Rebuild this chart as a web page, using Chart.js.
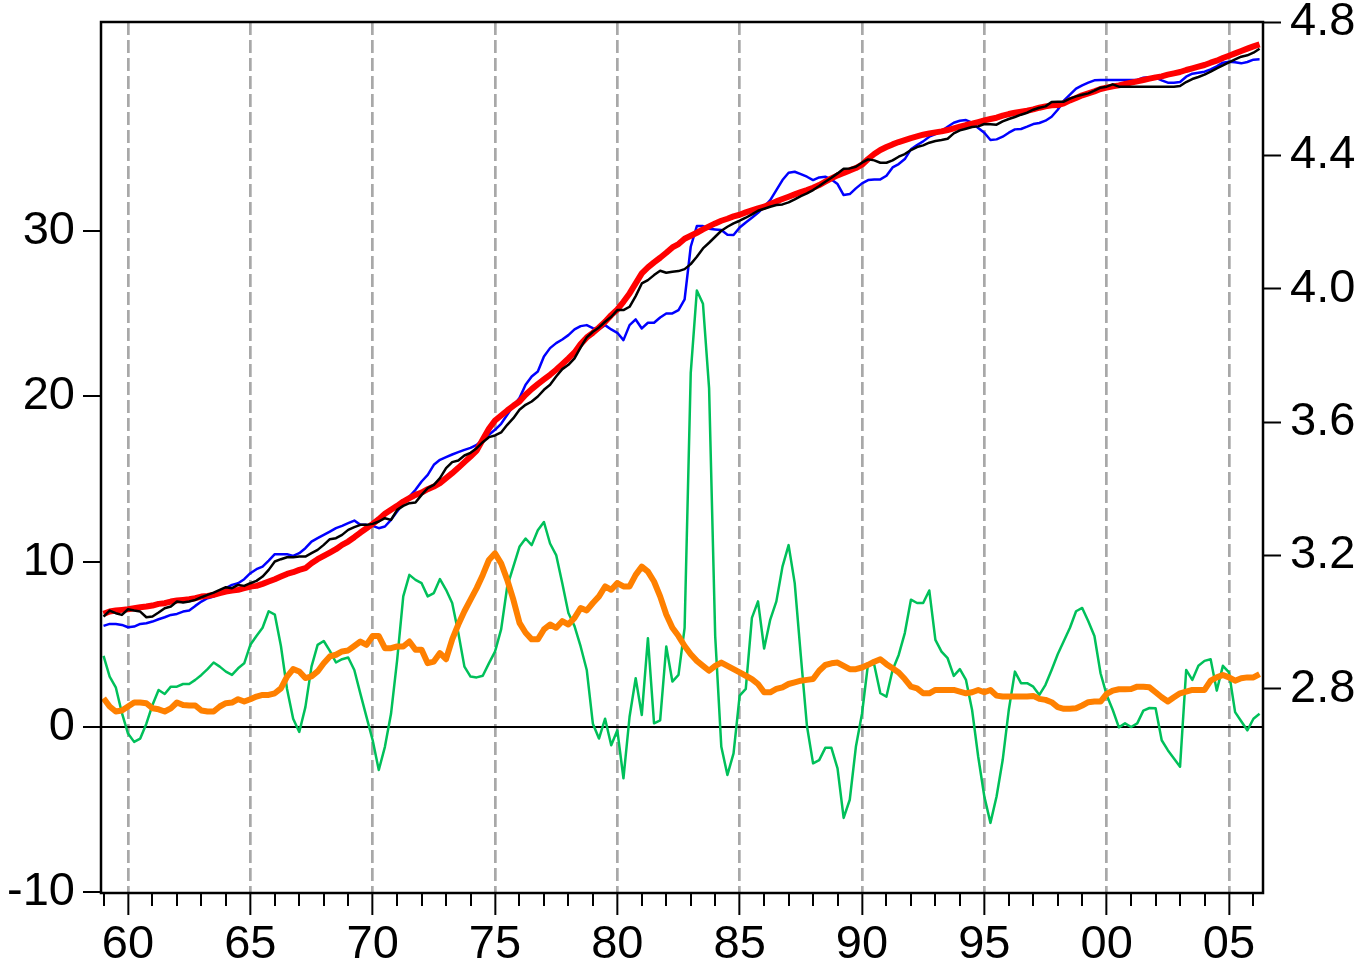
<!DOCTYPE html>
<html>
<head>
<meta charset="utf-8">
<title>Price level, trend and inflation</title>
<script src="https://cdn.jsdelivr.net/npm/chart.js@4.4.0/dist/chart.umd.min.js"></script>
<style>
  html, body { margin: 0; padding: 0; background: #fff; }
  #wrap { width: 1359px; height: 969px; }
</style>
</head>
<body>
<div id="wrap"><canvas id="chart" width="1359" height="969"></canvas></div>
<script>
// quarterly data, 1959Q1 - 2006Q2
const startYear = 1959;

// log price level (right axis), blue
const priceLevel = [
  2.989, 2.995, 2.995, 2.992,  2.985, 2.987, 2.995, 2.997,  3.002, 3.009, 3.015, 3.022,
  3.025, 3.032, 3.035, 3.049,  3.062, 3.072, 3.077, 3.092,  3.102, 3.112, 3.117, 3.129,
  3.147, 3.159, 3.167, 3.185,  3.204, 3.204, 3.204, 3.199,  3.207, 3.222, 3.242, 3.252,
  3.262, 3.272, 3.282, 3.289,  3.297, 3.305, 3.292, 3.292,  3.289, 3.282, 3.287, 3.307,
  3.332, 3.357, 3.377, 3.397,  3.422, 3.442, 3.472, 3.487,  3.495, 3.503, 3.510, 3.517,
  3.523, 3.532, 3.548, 3.562,  3.577, 3.595, 3.622, 3.649,  3.672, 3.712, 3.737, 3.752,
  3.797, 3.822, 3.837, 3.848,  3.861, 3.878, 3.888, 3.891,  3.882, 3.879, 3.891, 3.878,
  3.868, 3.846, 3.891, 3.908,  3.881, 3.898, 3.898, 3.914,  3.926, 3.926, 3.936, 3.968,
  4.126, 4.188, 4.188, 4.180,  4.178, 4.176, 4.162, 4.161,  4.184, 4.199, 4.213, 4.228,
  4.246, 4.266, 4.296, 4.326,  4.348, 4.351, 4.344, 4.336,  4.326, 4.334, 4.336, 4.328,
  4.314, 4.281, 4.284, 4.301,  4.316, 4.326, 4.328, 4.328,  4.339, 4.364, 4.374, 4.389,
  4.418, 4.431, 4.442, 4.456,  4.464, 4.473, 4.486, 4.498,  4.504, 4.506, 4.498, 4.482,
  4.468, 4.446, 4.448, 4.456,  4.468, 4.478, 4.479, 4.486,  4.494, 4.497, 4.504, 4.516,
  4.537, 4.564, 4.582, 4.600,  4.610, 4.618, 4.625, 4.626,  4.626, 4.626, 4.626, 4.626,
  4.626, 4.626, 4.633, 4.634,  4.633, 4.625, 4.618, 4.618,  4.620, 4.636, 4.645, 4.648,
  4.651, 4.658, 4.667, 4.678,  4.681, 4.679, 4.676, 4.680,  4.687, 4.688
];

// smoothed price level (right axis), black
const priceSmooth = [
  3.017, 3.035, 3.027, 3.022,  3.039, 3.035, 3.032, 3.015,  3.017, 3.029, 3.042, 3.047,
  3.062, 3.059, 3.062, 3.067,  3.075, 3.082, 3.089, 3.097,  3.105, 3.102, 3.112, 3.109,
  3.117, 3.124, 3.137, 3.157,  3.182, 3.189, 3.195, 3.195,  3.197, 3.197, 3.207, 3.217,
  3.232, 3.249, 3.252, 3.262,  3.277, 3.285, 3.292, 3.292,  3.295, 3.302, 3.312, 3.307,
  3.337, 3.349, 3.357, 3.359,  3.382, 3.402, 3.412, 3.432,  3.462, 3.480, 3.485, 3.500,
  3.508, 3.522, 3.540, 3.555,  3.560, 3.569, 3.592, 3.612,  3.637, 3.652, 3.662, 3.677,
  3.697, 3.712, 3.737, 3.759,  3.772, 3.791, 3.824, 3.854,  3.871, 3.884, 3.901, 3.916,
  3.936, 3.936, 3.946, 3.978,  4.016, 4.026, 4.041, 4.054,  4.048, 4.051, 4.053, 4.059,
  4.074, 4.096, 4.121, 4.138,  4.156, 4.174, 4.186, 4.196,  4.204, 4.213, 4.223, 4.234,
  4.240, 4.246, 4.251, 4.253,  4.259, 4.268, 4.278, 4.286,  4.296, 4.308, 4.321, 4.333,
  4.346, 4.360, 4.361, 4.366,  4.378, 4.388, 4.385, 4.378,  4.378, 4.385, 4.396, 4.404,
  4.416, 4.425, 4.430, 4.438,  4.443, 4.446, 4.450, 4.466,  4.475, 4.480, 4.485, 4.487,
  4.494, 4.493, 4.492, 4.502,  4.509, 4.515, 4.522, 4.528,  4.537, 4.543, 4.547, 4.560,
  4.561, 4.561, 4.570, 4.577,  4.582, 4.586, 4.594, 4.603,  4.606, 4.613, 4.606, 4.606,
  4.606, 4.606, 4.606, 4.606,  4.606, 4.606, 4.606, 4.606,  4.608, 4.620, 4.629, 4.635,
  4.642, 4.651, 4.661, 4.670,  4.679, 4.688, 4.696, 4.700,  4.708, 4.720
];

// trend price level (right axis), red
const priceTrend = [
  3.025, 3.032, 3.035, 3.037,  3.039, 3.042, 3.045, 3.047,  3.050, 3.055, 3.057, 3.062,
  3.065, 3.067, 3.069, 3.072,  3.077, 3.079, 3.082, 3.087,  3.092, 3.095, 3.097, 3.102,
  3.107, 3.109, 3.115, 3.122,  3.129, 3.137, 3.145, 3.150,  3.157, 3.162, 3.177, 3.189,
  3.199, 3.209, 3.219, 3.232,  3.242, 3.255, 3.269, 3.282,  3.295, 3.309, 3.325, 3.337,
  3.349, 3.362, 3.372, 3.382,  3.389, 3.399, 3.407, 3.417,  3.432, 3.447, 3.463, 3.480,
  3.497, 3.515, 3.548, 3.580,  3.605, 3.620, 3.635, 3.649,  3.662, 3.682, 3.699, 3.714,
  3.728, 3.742, 3.757, 3.774,  3.791, 3.809, 3.834, 3.854,  3.868, 3.884, 3.901, 3.921,
  3.938, 3.961, 3.986, 4.016,  4.046, 4.064, 4.079, 4.093,  4.108, 4.124, 4.134, 4.150,
  4.159, 4.168, 4.178, 4.187,  4.196, 4.204, 4.210, 4.217,  4.222, 4.229, 4.235, 4.241,
  4.246, 4.254, 4.262, 4.269,  4.276, 4.283, 4.290, 4.296,  4.303, 4.311, 4.321, 4.331,
  4.340, 4.347, 4.355, 4.362,  4.372, 4.389, 4.404, 4.416,  4.425, 4.433, 4.440, 4.446,
  4.452, 4.457, 4.462, 4.466,  4.469, 4.472, 4.476, 4.481,  4.486, 4.491, 4.495, 4.500,
  4.505, 4.509, 4.513, 4.519,  4.524, 4.528, 4.531, 4.534,  4.538, 4.543, 4.547, 4.550,
  4.551, 4.556, 4.565, 4.572,  4.580, 4.586, 4.592, 4.599,  4.603, 4.607, 4.610, 4.614,
  4.618, 4.622, 4.626, 4.630,  4.634, 4.637, 4.642, 4.646,  4.650, 4.656, 4.661, 4.666,
  4.671, 4.678, 4.684, 4.692,  4.699, 4.706, 4.713, 4.720,  4.727, 4.733
];

// inflation, % (left axis), green
const inflation = [
  4.3, 3.05, 2.4, 0.85,  -0.4, -0.9, -0.7, 0.2,  1.33, 2.24, 2.0, 2.44,
  2.44, 2.6, 2.6, 2.85,  3.15, 3.5, 3.9, 3.65,  3.35, 3.15, 3.55, 3.85,
  4.97, 5.5, 6.0, 7.0,  6.8, 4.9, 2.3, 0.5,  -0.3, 1.2, 3.65, 4.97,
  5.2, 4.6, 3.9, 4.1,  4.2, 3.45, 2.0, 0.6,  -0.8, -2.6, -1.2, 0.8,
  4.05, 7.9, 9.2, 8.9,  8.7, 7.9, 8.1, 8.95,  8.3, 7.5, 5.7, 3.65,
  3.05, 3.0, 3.1, 3.85,  4.56, 5.9, 8.5, 9.7,  10.9, 11.4, 11.0, 11.9,
  12.4, 11.1, 10.4, 8.7,  6.9, 6.1, 4.87, 3.45,  0.2, -0.7, 0.5, -1.1,
  -0.2, -3.1, 0.62, 2.95,  0.73, 5.37, 0.22, 0.4,  4.87, 2.75, 3.15, 6.0,
  21.4, 26.4, 25.6, 20.5,  5.5, -1.2, -2.9, -1.6,  1.9, 2.3, 6.6, 7.6,
  4.75, 6.5, 7.6, 9.7,  11.0, 8.7, 4.3, 0.06,  -2.2, -2.0, -1.26, -1.26,
  -2.5, -5.5, -4.4, -1.2,  0.8, 3.86, 3.76, 2.04,  1.84, 3.45, 4.36, 5.68,
  7.7, 7.5, 7.5, 8.26,  5.27, 4.56, 4.16, 3.09,  3.5, 2.85, 1.03, -1.8,
  -4.2, -5.8, -4.2, -2.0,  1.03, 3.35, 2.65, 2.65,  2.44, 1.94, 2.55, 3.45,
  4.4, 5.2, 6.0, 7.0,  7.2, 6.4, 5.5, 3.25,  1.94, 1.03, -0.02, 0.22,
  0.0, 0.22, 0.99, 1.15,  1.13, -0.8, -1.4, -1.9,  -2.4, 3.45, 2.85, 3.7,
  4.0, 4.1, 2.2, 3.7,  3.3, 0.9, 0.35, -0.2,  0.5, 0.8
];

// trend inflation, % (left axis), orange
const trendInflation = [
  1.74, 1.24, 0.94, 1.0,  1.24, 1.48, 1.48, 1.44,  1.13, 1.07, 0.94, 1.13,
  1.48, 1.33, 1.3, 1.3,  1.0, 0.94, 0.94, 1.24,  1.44, 1.48, 1.68, 1.54,
  1.68, 1.84, 1.94, 1.94,  2.04, 2.34, 3.05, 3.5,  3.36, 2.96, 3.06, 3.36,
  3.86, 4.27, 4.37, 4.57,  4.63, 4.9, 5.17, 4.97,  5.5, 5.5, 4.77, 4.77,
  4.87, 4.87, 5.17, 4.67,  4.67, 3.86, 3.96, 4.47,  4.1, 5.3, 6.2, 7.0,
  7.7, 8.4, 9.2, 10.1,  10.5, 9.9, 8.9, 7.7,  6.3, 5.7, 5.3, 5.3,
  5.9, 6.2, 6.0, 6.4,  6.2, 6.6, 7.2, 7.05,  7.5, 7.9, 8.5, 8.3,
  8.7, 8.5, 8.5, 9.2,  9.7, 9.4, 8.8, 7.9,  6.8, 6.0, 5.5, 4.9,
  4.4, 4.0, 3.7, 3.4,  3.7, 3.9, 3.7, 3.5,  3.3, 3.1, 2.9, 2.6,
  2.1, 2.1, 2.3, 2.4,  2.6, 2.7, 2.8, 2.85,  2.9, 3.4, 3.75, 3.85,
  3.9, 3.7, 3.5, 3.5,  3.6, 3.76, 3.95, 4.1,  3.8, 3.55, 3.3, 2.9,
  2.44, 2.34, 2.04, 2.04,  2.24, 2.24, 2.24, 2.24,  2.14, 2.04, 2.1, 2.24,
  2.1, 2.24, 1.9, 1.84,  1.84, 1.84, 1.84, 1.84,  1.88, 1.7, 1.64, 1.5,
  1.2, 1.1, 1.1, 1.13,  1.3, 1.5, 1.54, 1.54,  2.0, 2.2, 2.28, 2.28,
  2.3, 2.44, 2.44, 2.4,  2.1, 1.8, 1.54, 1.8,  2.04, 2.14, 2.24, 2.24,
  2.24, 2.8, 3.0, 3.15,  3.0, 2.8, 2.95, 3.0,  3.0, 3.2
];

// axis ticks
const yearTicks = [];
for (let y = 1959; y <= 2006; y++) yearTicks.push(y);
const leftTicks = [-10, 0, 10, 20, 30];
const rightTicks = [2.8, 3.2, 3.6, 4.0, 4.4, 4.8];

// x position of each quarter
const quarterX = priceLevel.map((_, i) => startYear + i / 4);
function toPoints(values) {
  return values.map((v, i) => ({ x: quarterX[i], y: v }));
}

const tickFont = { family: '"Liberation Sans", Arial, sans-serif', size: 47 };

// frame round the plot area
const framePlugin = {
  id: 'frame',
  afterDatasetsDraw(chart) {
    const { ctx, chartArea: a } = chart;
    ctx.save();
    ctx.strokeStyle = '#000';
    ctx.lineWidth = 2.5;
    ctx.strokeRect(a.left, a.top, a.right - a.left, a.bottom - a.top);
    ctx.restore();
  }
};

function noPadding(scale) {
  scale.paddingTop = 0;
  scale.paddingBottom = 0;
  scale.paddingLeft = 0;
  scale.paddingRight = 0;
}

new Chart(document.getElementById('chart'), {
  type: 'line',
  data: {
    datasets: [
      { data: toPoints(priceSmooth), yAxisID: 'y1', borderColor: '#000000', borderWidth: 2.5 },
      { data: toPoints(priceTrend), yAxisID: 'y1', borderColor: '#ff0000', borderWidth: 6 },
      { data: toPoints(priceLevel), yAxisID: 'y1', borderColor: '#0000ff', borderWidth: 2.5 },
      { data: toPoints(trendInflation), yAxisID: 'y', borderColor: '#ff8000', borderWidth: 6 },
      { data: toPoints(inflation), yAxisID: 'y', borderColor: '#00c05a', borderWidth: 2.5 }
    ]
  },
  options: {
    responsive: false,
    animation: false,
    devicePixelRatio: 1,
    layout: { padding: { top: 22, left: 0, right: 0, bottom: 0 } },
    elements: {
      point: { radius: 0 },
      line: { tension: 0, fill: false, borderJoinStyle: 'round' }
    },
    plugins: {
      legend: { display: false },
      tooltip: { enabled: false }
    },
    scales: {
      x: {
        type: 'linear',
        min: 1958.896,
        max: 2006.39,
        afterBuildTicks: s => { s.ticks = yearTicks.map(v => ({ value: v })); },
        afterFit: s => { s.height = 76; noPadding(s); },
        ticks: {
          autoSkip: false,
          maxRotation: 0,
          padding: 2,
          color: '#000',
          font: tickFont,
          callback: v => (v % 5 === 0 ? String(v % 100).padStart(2, '0') : '')
        },
        grid: {
          drawOnChartArea: true,
          color: '#a8a8a8',
          lineWidth: c => (c.tick && c.tick.value % 5 === 0 ? 2.7 : 0),
          tickLength: 22,
          tickWidth: 2,
          tickColor: '#000',
          tickBorderDash: c => (c.tick && c.tick.value % 5 === 0 ? [] : [13, 40])
        },
        border: { display: false, dash: [13, 5] }
      },
      y: {
        position: 'left',
        min: -10.04,
        max: 42.64,
        afterBuildTicks: s => { s.ticks = leftTicks.map(v => ({ value: v })); },
        afterFit: s => { s.width = 101; noPadding(s); },
        ticks: { padding: 8, color: '#000', font: tickFont },
        grid: {
          drawOnChartArea: true,
          color: '#000',
          lineWidth: c => (c.tick && c.tick.value === 0 ? 2 : 0),
          tickLength: 18,
          tickWidth: 2,
          tickColor: '#000'
        },
        border: { display: false }
      },
      y1: {
        position: 'right',
        min: 2.188,
        max: 4.8,
        afterBuildTicks: s => { s.ticks = rightTicks.map(v => ({ value: v })); },
        afterFit: s => { s.width = 96; noPadding(s); },
        ticks: { padding: 9, color: '#000', font: tickFont, callback: v => v.toFixed(1) },
        grid: {
          drawOnChartArea: false,
          tickLength: 18,
          tickWidth: 2,
          tickColor: '#000'
        },
        border: { display: false }
      }
    }
  },
  plugins: [framePlugin]
});
</script>
</body>
</html>
